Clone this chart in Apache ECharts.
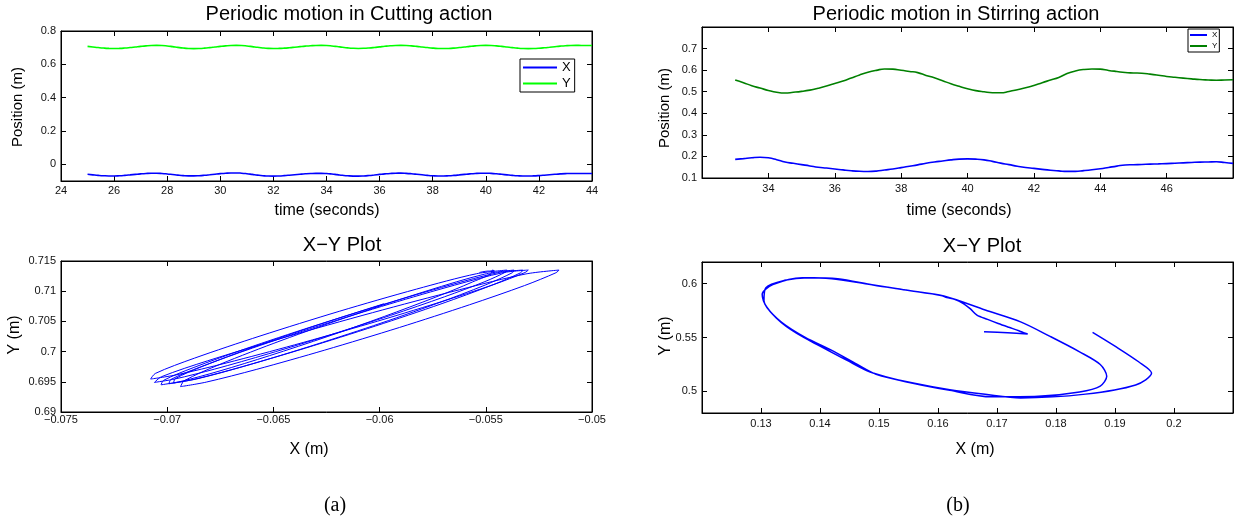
<!DOCTYPE html>
<html><head><meta charset="utf-8">
<script src="https://cdn.jsdelivr.net/npm/echarts@6/dist/echarts.min.js"></script>
<style>html,body{margin:0;padding:0;background:#fff}#c{width:1248px;height:525px}</style>
</head><body><div id="c"></div>
<script>
// ---- Cutting action (time series, sampled every 0.2 s) ----
const cutTime = [25,25.2,25.4,25.6,25.8,26,26.2,26.4,26.6,26.8,
  27,27.2,27.4,27.6,27.8,28,28.2,28.4,28.6,28.8,
  29,29.2,29.4,29.6,29.8,30,30.2,30.4,30.6,30.8,
  31,31.2,31.4,31.6,31.8,32,32.2,32.4,32.6,32.8,
  33,33.2,33.4,33.6,33.8,34,34.2,34.4,34.6,34.8,
  35,35.2,35.4,35.6,35.8,36,36.2,36.4,36.6,36.8,
  37,37.2,37.4,37.6,37.8,38,38.2,38.4,38.6,38.8,
  39,39.2,39.4,39.6,39.8,40,40.2,40.4,40.6,40.8,
  41,41.2,41.4,41.6,41.8,42,42.2,42.4,42.6,42.8,
  43,43.2,43.4,43.6,43.8,44];
const cutX = [-0.05979,-0.063,-0.066,-0.06832,-0.06962,-0.0697,-0.06855,-0.06637,-0.06346,-0.06028,
  -0.05733,-0.05503,-0.05374,-0.05367,-0.05505,-0.05772,-0.06114,-0.06464,-0.06751,-0.0692,
  -0.06937,-0.06816,-0.06578,-0.06258,-0.05906,-0.05577,-0.05318,-0.0517,-0.05155,-0.05311,
  -0.05624,-0.06033,-0.06457,-0.06811,-0.07027,-0.0706,-0.06963,-0.06776,-0.06524,-0.06237,
  -0.05949,-0.05694,-0.05504,-0.05403,-0.054,-0.05544,-0.05826,-0.0619,-0.06563,-0.06872,
  -0.07056,-0.07078,-0.06957,-0.06719,-0.06401,-0.06049,-0.0572,-0.05462,-0.05315,-0.053,
  -0.05419,-0.05647,-0.05952,-0.06287,-0.06599,-0.06843,-0.06982,-0.06992,-0.06875,-0.0665,
  -0.06349,-0.06019,-0.05711,-0.05471,-0.05335,-0.05326,-0.05444,-0.05673,-0.0598,-0.06317,
  -0.06632,-0.06878,-0.07017,-0.07029,-0.06934,-0.06756,-0.06518,-0.06247,-0.05977,-0.05739,
  -0.05562,-0.0547,-0.0547,-0.0546,-0.055,-0.0553];
const cutY = [0.70793,0.7043,0.70067,0.69758,0.69552,0.6948,0.69552,0.69758,0.70067,0.7043,
  0.70793,0.71102,0.71308,0.7135,0.71283,0.71011,0.70618,0.70182,0.6979,0.69517,
  0.6942,0.69495,0.69707,0.70025,0.704,0.70775,0.71093,0.71305,0.7135,0.71286,
  0.71024,0.70645,0.70225,0.69846,0.69584,0.6949,0.69547,0.69711,0.69963,0.70271,
  0.70599,0.70908,0.71159,0.71323,0.7135,0.71289,0.71035,0.70667,0.70258,0.69891,
  0.69638,0.69545,0.69615,0.69814,0.70111,0.70463,0.70814,0.71111,0.7131,0.7135,
  0.71307,0.711,0.70789,0.70424,0.70058,0.69747,0.6954,0.69467,0.6954,0.69747,
  0.70058,0.70424,0.70789,0.711,0.71307,0.7135,0.71306,0.71097,0.70784,0.70415,
  0.70046,0.69733,0.69524,0.6945,0.69508,0.69676,0.69933,0.70247,0.70583,0.70898,
  0.71154,0.71322,0.7135,0.7134,0.7133,0.7131];

// ---- Stirring action (time series, sampled every 0.25 s) ----
const stirTime = [33,33.25,33.5,33.75,34,34.25,34.5,34.75,35,35.25,
  35.5,35.75,36,36.25,36.5,36.75,37,37.25,37.5,37.75,
  38,38.25,38.5,38.75,39,39.25,39.5,39.75,40,40.25,
  40.5,40.75,41,41.25,41.5,41.75,42,42.25,42.5,42.75,
  43,43.25,43.5,43.75,44,44.25,44.5,44.75,45,45.25,
  45.5,45.75,46,46.25,46.5,46.75,47,47.25,47.5,47.75,
  48];
const stirX = [0.1862,0.19,0.194,0.1962,0.1935,0.185,0.174,0.168,0.162,0.156,
  0.1495,0.146,0.142,0.1375,0.1335,0.131,0.1302,0.132,0.137,0.142,
  0.148,0.1545,0.161,0.168,0.174,0.179,0.184,0.1875,0.1886,0.1875,
  0.184,0.177,0.169,0.162,0.1545,0.1485,0.1445,0.14,0.136,0.133,
  0.1305,0.1308,0.134,0.138,0.143,0.149,0.155,0.1605,0.1615,0.1628,
  0.1643,0.1655,0.1666,0.1684,0.1702,0.172,0.1737,0.1745,0.1752,0.1718,
  0.1678];
const stirY = [0.5548,0.542,0.5275,0.517,0.506,0.4975,0.494,0.4973,0.5015,0.5075,
  0.516,0.526,0.538,0.55,0.564,0.578,0.59,0.599,0.6055,0.6045,
  0.5995,0.594,0.5885,0.5755,0.5645,0.551,0.5367,0.525,0.514,0.505,
  0.4995,0.4955,0.495,0.501,0.509,0.518,0.529,0.542,0.554,0.566,
  0.584,0.596,0.603,0.6055,0.6045,0.5987,0.5937,0.589,0.587,0.5855,
  0.5815,0.5765,0.5708,0.5668,0.563,0.5595,0.5563,0.5545,0.5532,0.5543,
  0.5554];

// ---- Tick labels ----
const cutTimeTicks = [24,26,28,30,32,34,36,38,40,42,44];
const cutPosTicks = [0,0.2,0.4,0.6,0.8];
const stirTimeTicks = [34,36,38,40,42,44,46];
const stirPosTicks = [0.1,0.2,0.3,0.4,0.5,0.6,0.7];
const cutXYxTicks = [-0.075,-0.07,-0.065,-0.06,-0.055,-0.05];
const cutXYyTicks = [0.69,0.695,0.7,0.705,0.71,0.715];
const stirXYxTicks = [0.13,0.14,0.15,0.16,0.17,0.18,0.19,0.2];
const stirXYyTicks = [0.5,0.55,0.6];

const FONT = '"Liberation Sans", Arial, Helvetica, sans-serif';
const fmt = v => String(+(+v).toFixed(4)).replace('-', '\u2212');

function xAxes(grid, min, max, ticks, margin) {
  const base = {type:'value', gridIndex:grid, min, max, splitLine:{show:false},
    axisLine:{show:true, onZero:false, lineStyle:{color:'#000', width:1}}};
  return [
    Object.assign({}, base, {position:'bottom',
      axisTick:{show:true, inside:true, length:5, customValues:ticks, lineStyle:{color:'#000'}},
      axisLabel:{show:true, customValues:ticks, margin:margin, fontSize:11, fontFamily:FONT, color:'#111', formatter:fmt}}),
    Object.assign({}, base, {position:'top',
      axisTick:{show:true, inside:true, length:5, customValues:ticks, lineStyle:{color:'#000'}},
      axisLabel:{show:false}})
  ];
}
function yAxes(grid, min, max, ticks) {
  const base = {type:'value', gridIndex:grid, min, max, splitLine:{show:false},
    axisLine:{show:true, onZero:false, lineStyle:{color:'#000', width:1}}};
  return [
    Object.assign({}, base, {position:'left',
      axisTick:{show:true, inside:true, length:5, customValues:ticks, lineStyle:{color:'#000'}},
      axisLabel:{show:true, customValues:ticks, margin:5, fontSize:11, fontFamily:FONT, color:'#111', formatter:fmt}}),
    Object.assign({}, base, {position:'right',
      axisTick:{show:true, inside:true, length:5, customValues:ticks, lineStyle:{color:'#000'}},
      axisLabel:{show:false}})
  ];
}

const xAxis = [].concat(
  xAxes(0, 24, 44, cutTimeTicks, 4),
  xAxes(1, 32, 48, stirTimeTicks, 5),
  xAxes(2, -0.075, -0.05, cutXYxTicks, 2),
  xAxes(3, 0.12, 0.21, stirXYxTicks, 5));
const yAxis = [].concat(
  yAxes(0, -0.1, 0.8, cutPosTicks),
  yAxes(1, 0.1, 0.8, stirPosTicks),
  yAxes(2, 0.69, 0.715, cutXYyTicks),
  yAxes(3, 0.48, 0.62, stirXYyTicks));

const gridBase = {show:true, borderColor:'#000', borderWidth:1, containLabel:false};
const grid = [
  Object.assign({left:61, top:31, width:531, height:150}, gridBase),
  Object.assign({left:702, top:27, width:531, height:151}, gridBase),
  Object.assign({left:61, top:261, width:531, height:151}, gridBase),
  Object.assign({left:702, top:262, width:531, height:151}, gridBase)
];

function line(name, xi, yi, data, color, width, smooth) {
  return {type:'line', name, xAxisIndex:xi, yAxisIndex:yi, data, symbol:'none', showSymbol:false,
    smooth, lineStyle:{color, width}, itemStyle:{color}, emphasis:{disabled:true}, animation:false};
}

const series = [
  line('X', 0, 0, cutTime.map((t,i)=>[t, cutX[i]]), '#0000ff', 1.6, 0.5),
  line('Y', 0, 0, cutTime.map((t,i)=>[t, cutY[i]]), '#00ff00', 1.6, 0.5),
  line('X ', 2, 2, stirTime.map((t,i)=>[t, stirX[i]]), '#0000ff', 1.6, 0.5),
  line('Y ', 2, 2, stirTime.map((t,i)=>[t, stirY[i]]), '#008000', 1.6, 0.5),
  line('cutXY', 4, 4, cutX.map((x,i)=>[x, cutY[i]]), '#0000ff', 1, 0.3),
  line('stirXY', 6, 6, stirX.map((x,i)=>[x, stirY[i]]), '#0000ff', 1.5, 0.3)
];

function txt(text, x, y, size, opts) {
  return Object.assign({type:'text', x, y, silent:true,
    style:{text, fontSize:size, fontFamily:FONT, fill:'#000', align:'center', verticalAlign:'middle'}}, opts||{});
}
const SERIF = '"Liberation Serif", "Times New Roman", serif';
const graphic = [
  txt('Periodic motion in Cutting action', 349, 14, 20),
  txt('Periodic motion in Stirring action', 956, 14, 20),
  txt('X\u2212Y Plot', 342, 245, 20),
  txt('X\u2212Y Plot', 982, 246, 20),
  txt('time (seconds)', 327, 211, 16),
  txt('time (seconds)', 959, 211, 16),
  txt('X (m)', 309, 450, 16),
  txt('X (m)', 975, 450, 16),
  txt('Position (m)', 18, 107, 15, {rotation:Math.PI/2}),
  txt('Position (m)', 665, 108, 15, {rotation:Math.PI/2}),
  txt('Y (m)', 15, 335, 16, {rotation:Math.PI/2}),
  txt('Y (m)', 666, 336, 16, {rotation:Math.PI/2}),
  {type:'text', x:335, y:506, silent:true, style:{text:'(a)', fontSize:20, fontFamily:SERIF, fill:'#000', align:'center', verticalAlign:'middle'}},
  {type:'text', x:958, y:506, silent:true, style:{text:'(b)', fontSize:20, fontFamily:SERIF, fill:'#000', align:'center', verticalAlign:'middle'}}
];

const legend = [
  {left:520, top:59, orient:'vertical', data:['X','Y'], selectedMode:false, icon:'rect',
   itemWidth:34, itemHeight:2, itemGap:3, padding:[2,4,2,3],
   borderColor:'#000', borderWidth:1, backgroundColor:'#fff',
   textStyle:{fontSize:13, fontFamily:FONT, color:'#000'}},
  {left:1188, top:29, orient:'vertical', data:['X ','Y '], selectedMode:false, icon:'rect',
   itemWidth:17, itemHeight:2, itemGap:3, padding:[2,2,2,2],
   borderColor:'#000', borderWidth:1, backgroundColor:'#fff',
   formatter: n => n.trim(),
   textStyle:{fontSize:8, fontFamily:FONT, color:'#000'}}
];

const chart = echarts.init(document.getElementById('c'), null, {renderer:'canvas'});
chart.setOption({animation:false, backgroundColor:'#fff', grid, xAxis, yAxis, series, legend, graphic});
</script></body></html>
